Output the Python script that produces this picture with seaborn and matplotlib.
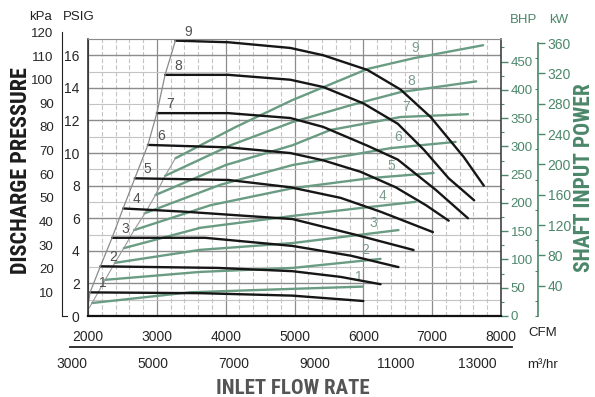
import numpy as np
import pandas as pd
import matplotlib
matplotlib.use("Agg")
import matplotlib.pyplot as plt
from matplotlib import font_manager as fm
from matplotlib.ticker import MultipleLocator
import seaborn as sns

sns.set_style("white")
plt.rcParams["font.family"] = ["Liberation Sans", "DejaVu Sans"]

# ---------------- data ----------------
SPEEDS = [1, 2, 3, 4, 5, 6, 7, 8, 9]

# Discharge pressure curves (CFM, PSIG)
P1_CFM = [2030, 3630, 4970, 6000]
P1_PSI = [1.45, 1.40, 1.25, 0.92]
P2_CFM = [2180, 3890, 4970, 5670, 6250]
P2_PSI = [3.05, 2.95, 2.75, 2.40, 1.95]
P3_CFM = [2350, 3700, 4970, 5820, 6510]
P3_PSI = [4.80, 4.80, 4.30, 3.70, 3.00]
P4_CFM = [2510, 3410, 4970, 5920, 6730]
P4_PSI = [6.60, 6.40, 5.95, 4.95, 4.05]
P5_CFM = [2680, 4040, 4940, 5670, 6250, 7010]
P5_PSI = [8.45, 8.35, 7.90, 7.25, 6.40, 5.15]
P6_CFM = [2870, 4040, 4940, 5420, 5960, 6470, 6910, 7240]
P6_PSI = [10.50, 10.35, 10.00, 9.55, 8.85, 7.90, 6.80, 5.85]
P7_CFM = [3000, 4040, 4940, 5420, 6060, 6500, 7050, 7520]
P7_PSI = [12.45, 12.45, 12.15, 11.60, 10.45, 9.60, 7.75, 6.00]
P8_CFM = [3120, 4040, 4940, 5420, 6000, 6500, 6880, 7240, 7610]
P8_PSI = [14.80, 14.80, 14.50, 14.05, 13.05, 11.80, 10.20, 8.45, 7.10]
P9_CFM = [3270, 4040, 4940, 5420, 6060, 6540, 6980, 7460, 7750]
P9_PSI = [16.90, 16.80, 16.45, 16.00, 15.10, 13.90, 12.20, 9.75, 8.00]

# Shaft input power curves (CFM, BHP)
G1_CFM = [2060, 3490, 4970, 5990]
G1_BHP = [23, 42, 48, 52]
G2_CFM = [2250, 3630, 4970, 6250]
G2_BHP = [64, 78, 85, 101]
G3_CFM = [2390, 3630, 4970, 6510]
G3_BHP = [94, 117, 129, 152]
G4_CFM = [2520, 3630, 4970, 5960, 6760]
G4_BHP = [120, 156, 177, 191, 202]
G5_CFM = [2670, 3780, 4970, 6110, 7020]
G5_BHP = [152, 196, 226, 244, 253]
G6_CFM = [2830, 3920, 4970, 6400, 7340]
G6_BHP = [182, 232, 267, 297, 308]
G7_CFM = [2980, 4000, 4970, 5520, 6540, 7520]
G7_BHP = [214, 267, 302, 329, 352, 357]
G8_CFM = [3120, 4070, 4970, 5820, 6540, 7640]
G8_BHP = [248, 302, 343, 373, 396, 415]
G9_CFM = [3270, 4140, 4970, 6060, 6730, 7740]
G9_BHP = [279, 334, 382, 437, 456, 479]

# lower ends of the two thin boundary lines
SURGE_BASE = (2000, 0.65)     # CFM, PSIG
POWER_BASE = (2000, 11)       # CFM, BHP

# where the power-curve numbers sit (CFM)
G_LABEL_CFM = [5930, 6030, 6140, 6280, 6400, 6500, 6620, 6690, 6760]

PSI_TICKS = list(range(0, 17, 2))
KPA_TICKS = list(range(10, 121, 10))
BHP_TICKS = list(range(0, 451, 50))
KW_TICKS = list(range(40, 361, 40))
CFM_TICKS = list(range(2000, 8001, 1000))
M3_TICKS = list(range(3000, 13001, 2000))

PRESS = [(1, P1_CFM, P1_PSI), (2, P2_CFM, P2_PSI), (3, P3_CFM, P3_PSI),
         (4, P4_CFM, P4_PSI), (5, P5_CFM, P5_PSI), (6, P6_CFM, P6_PSI),
         (7, P7_CFM, P7_PSI), (8, P8_CFM, P8_PSI), (9, P9_CFM, P9_PSI)]
POWER = [(1, G1_CFM, G1_BHP), (2, G2_CFM, G2_BHP), (3, G3_CFM, G3_BHP),
         (4, G4_CFM, G4_BHP), (5, G5_CFM, G5_BHP), (6, G6_CFM, G6_BHP),
         (7, G7_CFM, G7_BHP), (8, G8_CFM, G8_BHP), (9, G9_CFM, G9_BHP)]

df_p = pd.concat([pd.DataFrame({"speed": s, "cfm": c, "psi": p}) for s, c, p in PRESS],
                 ignore_index=True)
df_g = pd.concat([pd.DataFrame({"speed": s, "cfm": c, "bhp": b}) for s, c, b in POWER],
                 ignore_index=True)
surge_cfm = [SURGE_BASE[0]] + [c[0] for _, c, _ in PRESS]
surge_psi = [SURGE_BASE[1]] + [p[0] for _, _, p in PRESS]
inner_cfm = [POWER_BASE[0]] + [c[0] for _, c, _ in POWER]
inner_bhp = [POWER_BASE[1]] + [b[0] for _, _, b in POWER]

# ---------------- styling ----------------
BLACK = "#161616"
GREEN = "#6a9c83"
GREEN_TXT = "#4c876a"
GRID_D = "#8c8c8c"
GRID_L = "#c4c4c4"

# condensed bold face for the axis titles, if one is installed
TITLE_KW = dict(family=["Liberation Sans", "DejaVu Sans"])
TSIZE, XSIZE = 13, 12
_fonts = fm.fontManager.ttflist
_names = {f.name for f in _fonts}
if "Liberation Sans Narrow" in _names:
    TITLE_KW = dict(family=["Liberation Sans Narrow", "Liberation Sans"])
    TSIZE, XSIZE = 16, 15
elif "Roboto Condensed" in _names:
    TITLE_KW = dict(family=["Roboto Condensed", "Liberation Sans"])
    TSIZE, XSIZE = 16, 15
elif any(f.name == "DejaVu Sans" and f.stretch in ("condensed", "semi-condensed", 600, 700)
         and f.weight in ("bold", 700) for f in _fonts):
    TITLE_KW = dict(family=["DejaVu Sans"], fontstretch="condensed")
    TSIZE, XSIZE = 14.5, 13.5

W, H = 595, 397
fig = plt.figure(figsize=(W / 100, H / 100), dpi=100)
L, R, T, B = 88, 501, 39, 316
PSI_MAX, BHP_MAX = 17.0, 490.0
KPA_PER_PSI = 6.89476
BHP_PER_KW = 1.34102
M3_PER_CFM = 1.69901


def fx(px):
    return px / W


def fy(py):
    return 1 - py / H


pos = [fx(L), fy(B), (R - L) / W, (B - T) / H]

# grid layer
axg = fig.add_axes(pos, zorder=1)
axg.set_xlim(2000, 8000)
axg.set_ylim(0, PSI_MAX)
axg.xaxis.set_major_locator(MultipleLocator(1000))
axg.xaxis.set_minor_locator(MultipleLocator(200))
axg.yaxis.set_major_locator(MultipleLocator(2))
axg.yaxis.set_minor_locator(MultipleLocator(1))
axg.grid(which="major", axis="x", color=GRID_D, lw=0.9)
axg.grid(which="minor", axis="x", color=GRID_L, lw=0.8, ls=(0, (4, 2)))
axg.grid(which="major", axis="y", color=GRID_D, lw=1.0)
axg.grid(which="minor", axis="y", color=GRID_L, lw=0.8)
axg.tick_params(which="both", length=0, labelbottom=False, labelleft=False)
for s in axg.spines.values():
    s.set_visible(False)

# power layer
ax2 = fig.add_axes(pos, zorder=2)
ax2.patch.set_visible(False)
ax2.set_xlim(2000, 8000)
ax2.set_ylim(0, BHP_MAX)
sns.lineplot(data=df_g, x="cfm", y="bhp", units="speed", estimator=None,
             color=GREEN, linewidth=1.7, ax=ax2, legend=False)
sns.lineplot(x=inner_cfm, y=inner_bhp, estimator=None, sort=False,
             color="#999999", linewidth=0.8, ax=ax2)
for (s, c, b), lx in zip(POWER, G_LABEL_CFM):
    ax2.annotate(str(s), xy=(lx, np.interp(lx, c, b)), xytext=(0, 10),
                 textcoords="offset pixels", ha="center", va="center",
                 fontsize=10, color="#7a9d8b")
ax2.yaxis.tick_right()
ax2.set_yticks(BHP_TICKS)
ax2.yaxis.set_minor_locator(MultipleLocator(25))
ax2.tick_params(axis="y", which="major", direction="out", length=5, width=1,
                pad=2, labelsize=9.5, colors=GREEN_TXT)
ax2.tick_params(axis="y", which="minor", direction="out", length=2, width=0.8, colors=GREEN_TXT)
ax2.tick_params(axis="x", which="both", length=0, labelbottom=False)
ax2.set_xlabel("")
ax2.set_ylabel("")
for k in ["left", "top", "bottom"]:
    ax2.spines[k].set_visible(False)
ax2.spines["right"].set_color("#333333")
ax2.spines["right"].set_linewidth(1.1)

# pressure layer
ax = fig.add_axes(pos, zorder=3)
ax.patch.set_visible(False)
ax.set_xlim(2000, 8000)
ax.set_ylim(0, PSI_MAX)
sns.lineplot(data=df_p, x="cfm", y="psi", units="speed", estimator=None,
             color=BLACK, linewidth=1.7, ax=ax, legend=False)
sns.lineplot(x=surge_cfm, y=surge_psi, estimator=None, sort=False,
             color="#8a8a8a", linewidth=0.9, ax=ax)
for s, c, p in PRESS:
    ax.annotate(str(s), xy=(c[0], p[0]), xytext=(13, 9), textcoords="offset pixels",
                ha="center", va="center", fontsize=10, color="#505050",
                annotation_clip=False)
ax.set_xticks(CFM_TICKS)
ax.xaxis.set_minor_locator(MultipleLocator(200))
ax.set_yticks(PSI_TICKS)
ax.yaxis.set_minor_locator(MultipleLocator(1))
ax.tick_params(axis="x", which="major", direction="out", length=4, width=1, pad=6, labelsize=10)
ax.tick_params(axis="x", which="minor", direction="out", length=2, width=0.8)
ax.tick_params(axis="y", which="major", direction="out", length=4, width=1, pad=2, labelsize=10)
ax.tick_params(axis="y", which="minor", direction="out", length=2, width=0.8)
ax.set_xlabel("")
ax.set_ylabel("")
ax.spines["right"].set_visible(False)
ax.spines["top"].set_color(GRID_D)
ax.spines["left"].set_color("#222222")
ax.spines["bottom"].set_color("#111111")
ax.spines["bottom"].set_linewidth(1.6)
ax.spines["left"].set_linewidth(1.1)

# kPa axis
ktop = B - (120 / KPA_PER_PSI) / PSI_MAX * (B - T)
axk = fig.add_axes([fx(62), fy(B), 5 / W, (B - ktop) / H], zorder=3)
axk.patch.set_visible(False)
axk.set_xlim(0, 1)
axk.set_ylim(0, 120)
axk.set_xticks([])
axk.set_yticks(KPA_TICKS)
axk.yaxis.set_minor_locator(MultipleLocator(5))
axk.tick_params(axis="y", which="major", direction="out", length=5, width=1, pad=1, labelsize=9.5)
axk.tick_params(axis="y", which="minor", direction="out", length=2.5, width=0.8)
for k in ["top", "right"]:
    axk.spines[k].set_visible(False)
axk.spines["left"].set_color("#222222")
axk.spines["bottom"].set_color("#222222")

# kW axis
wtop = B - (360 * BHP_PER_KW) / BHP_MAX * (B - T)
axw = fig.add_axes([fx(533), fy(B), 5 / W, (B - wtop) / H], zorder=3)
axw.patch.set_visible(False)
axw.set_xlim(0, 1)
axw.set_ylim(0, 360)
axw.set_xticks([])
axw.yaxis.tick_right()
axw.set_yticks(KW_TICKS)
axw.yaxis.set_minor_locator(MultipleLocator(20))
axw.tick_params(axis="y", which="major", direction="out", length=5, width=1, pad=2,
                labelsize=10, colors=GREEN_TXT)
axw.tick_params(axis="y", which="minor", direction="in", length=2.5, width=0.8, colors=GREEN_TXT)
for k in ["top", "left", "bottom"]:
    axw.spines[k].set_visible(False)
axw.spines["right"].set_color(GREEN_TXT)
axw.spines["right"].set_linewidth(1.2)


# m3/hr axis
def cfm_at(px):
    return 2000 + (px - L) * 6000 / (R - L)


ML, MR, MY = 70, 512, 347
axm = fig.add_axes([fx(ML), fy(MY), (MR - ML) / W, 1 / H], zorder=3)
axm.patch.set_visible(False)
axm.set_xlim(cfm_at(ML) * M3_PER_CFM, cfm_at(MR) * M3_PER_CFM)
axm.set_yticks([])
axm.set_xticks(M3_TICKS)
axm.xaxis.set_minor_locator(MultipleLocator(1000))
axm.tick_params(axis="x", which="both", direction="in", length=4, width=1, pad=7, labelsize=10)
for k in ["top", "left", "right"]:
    axm.spines[k].set_visible(False)
axm.spines["bottom"].set_color("#222222")
axm.spines["bottom"].set_linewidth(1.3)

# texts
fig.text(fx(40), fy(17), "kPa", ha="center", va="center", fontsize=9.5, color="#222222")
fig.text(fx(79), fy(17), "PSIG", ha="center", va="center", fontsize=9.5, color="#222222")
fig.text(fx(524), fy(20), "BHP", ha="center", va="center", fontsize=9.5, color=GREEN_TXT)
fig.text(fx(559), fy(20), "kW", ha="center", va="center", fontsize=9.5, color=GREEN_TXT)
fig.text(fx(528), fy(333), "CFM", ha="left", va="center", fontsize=9.5, color="#222222")
fig.text(fx(527), fy(365), "m³/hr", ha="left", va="center", fontsize=9.5, color="#222222")
fig.text(fx(21), fy(171), "DISCHARGE PRESSURE", rotation=90, ha="center", va="center",
         fontsize=TSIZE, fontweight="bold", color="#1c1c1c", **TITLE_KW)
fig.text(fx(584), fy(178), "SHAFT INPUT POWER", rotation=90, ha="center", va="center",
         fontsize=TSIZE - 0.5, fontweight="bold", color=GREEN_TXT, **TITLE_KW)
fig.text(fx(293), fy(388), "INLET FLOW RATE", ha="center", va="center",
         fontsize=XSIZE, fontweight="bold", color="#555555", **TITLE_KW)

fig.savefig("out.png", dpi=100)
